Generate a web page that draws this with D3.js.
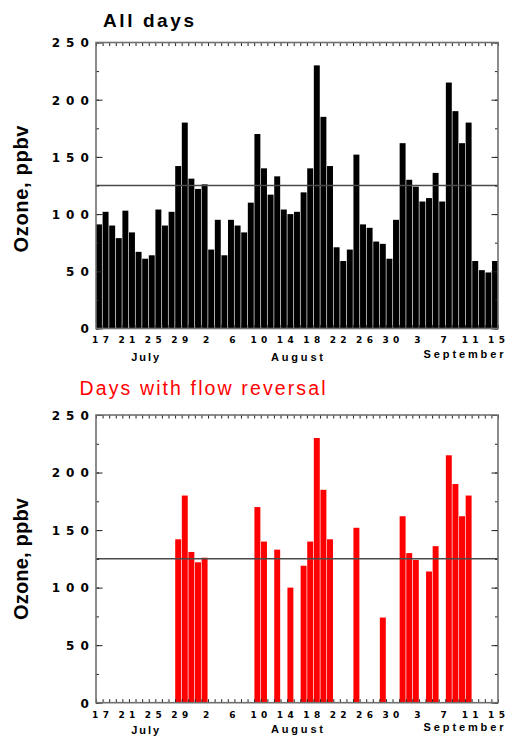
<!DOCTYPE html>
<html><head><meta charset="utf-8">
<script src="https://cdn.jsdelivr.net/npm/d3@7"></script>
<style>body{margin:0;background:#fff}svg{display:block}</style>
</head><body>
<svg id="c" width="506" height="736"></svg>
<script>
// ---- data ----
const fmt = d3.timeFormat("%m-%d");
const days = d3.timeDay.range(new Date(2000, 6, 17), new Date(2000, 8, 16)).map(fmt); // Jul 17 .. Sep 15
const ozoneAll = [91,102,90,79,103,84,67,61,64,104,
                  90,102,142,180,131,122,126,69,95,64,
                  95,90,84,110,170,140,117,133,104,100,
                  102,119,140,230,185,142,71,59,69,152,
                  91,88,76,74,61,95,162,130,124,111,
                  114,136,111,215,190,162,180,59,51,49,59];
const reversalDays = ["07-29","07-30","07-31","08-01","08-02","08-10","08-11","08-13","08-15","08-17",
                      "08-18","08-19","08-20","08-21","08-25","08-29","09-01","09-02","09-03","09-05",
                      "09-06","09-08","09-09","09-10","09-11"];
const reversalValues = [142,180,131,122,126,170,140,133,100,119,
                        140,230,185,142,152,74,162,130,124,114,
                        136,215,190,162,180];
const xTickDays = ["07-17","07-21","07-25","07-29","08-02","08-06","08-10","08-14","08-18","08-22","08-26","08-30","09-03","09-07","09-11","09-15"];
const yTicks = [0,50,100,150,200,250];
const yMinorTicks = [0,25,50,75,100,125,150,175,200,225,250];
const months = ["July","August","September"];
const monthCenterDays = ["07-24","08-16","09-10"];
const threshold = 125;
const titles = ["All days","Days with flow reversal"];
const yTitle = "Ozone, ppbv";

// ---- layout ----
const svg = d3.select("#c");
const L = 96, R = 498;
const panels = [
  {top: 42.5, bottom: 328.5, data: days.map((d,i)=>({day:d, v:ozoneAll[i]})), color:"#000",
   title: titles[0], titleX: 103, titleY: 27, titleLen: 91, titleSize: 19, titleWeight: "bold", titleColor:"#000",
   yTitleY: 189, yTitleLen: 127, monthY: [361, 361, 358], tickY: 343},
  {top: 415, bottom: 702.7, data: reversalDays.map((d,i)=>({day:d, v:reversalValues[i]})), color:"#ff0000",
   title: titles[1], titleX: 79.5, titleY: 395, titleLen: 246, titleSize: 19.5, titleWeight: "normal", titleColor:"#ff0000",
   yTitleY: 559, yTitleLen: 122, monthY: [734, 733, 731], tickY: 718.5}
];

const x = d3.scaleBand().domain(days).range([L, R]).paddingInner(0.1).paddingOuter(0);
const xEdge = d3.scaleLinear().domain([0, days.length]).range([L, R]);
const numFont = "'DejaVu Sans', sans-serif";
const txtFont = "'Liberation Sans', Arial, sans-serif";

// spaced text without trailing space
function spaced(sel, ls) {
  sel.each(function() {
    const t = d3.select(this), s = t.text();
    t.text(null);
    [...s].forEach((ch, i, arr) => {
      t.append("tspan").style("letter-spacing", i < arr.length - 1 ? ls + "px" : "0px").text(ch);
    });
  });
}

panels.forEach(p => {
  const y = d3.scaleLinear().domain([0, 250]).range([p.bottom, p.top]);
  const g = svg.append("g");

  // bars
  g.append("g").selectAll("rect").data(p.data).join("rect")
    .attr("x", d => x(d.day)).attr("width", x.bandwidth())
    .attr("y", d => y(d.v)).attr("height", d => y(0) - y(d.v))
    .attr("fill", p.color);

  // threshold line
  g.append("line").attr("x1", L).attr("x2", R)
    .attr("y1", y(threshold)).attr("y2", y(threshold))
    .attr("stroke", "#4a4a4a").attr("stroke-width", 1.5);

  const styleAxis = sel => { sel.select(".domain").remove(); sel.selectAll(".tick line").attr("stroke", "#222"); };

  // day ticks, bottom & top (inward)
  g.append("g").attr("transform", `translate(0,${p.bottom})`)
    .call(d3.axisBottom(xEdge).tickValues(d3.range(0, days.length + 1)).tickSize(-3.5).tickFormat(""))
    .call(styleAxis);
  g.append("g").attr("transform", `translate(0,${p.top})`)
    .call(d3.axisTop(xEdge).tickValues(d3.range(0, days.length + 1)).tickSize(-3.5).tickFormat(""))
    .call(styleAxis);

  // y ticks left/right
  g.append("g").attr("transform", `translate(${L},0)`)
    .call(d3.axisLeft(y).tickValues(yMinorTicks).tickSize(-3).tickFormat("")).call(styleAxis);
  g.append("g").attr("transform", `translate(${R},0)`)
    .call(d3.axisRight(y).tickValues(yMinorTicks).tickSize(-3).tickFormat("")).call(styleAxis);
  g.append("g").attr("transform", `translate(${R},0)`)
    .call(d3.axisRight(y).tickValues(yTicks).tickSize(-6.5).tickFormat("")).call(styleAxis);
  const ya = g.append("g").attr("transform", `translate(${L},0)`)
    .call(d3.axisLeft(y).tickValues(yTicks).tickSize(-6.5).tickFormat(d3.format("d"))).call(styleAxis);
  ya.selectAll(".tick text")
    .attr("x", -7.2).attr("dy", "0.36em")
    .attr("text-anchor", "end")
    .style("font-family", numFont).style("font-weight", "bold").style("font-size", "12px")
    .attr("fill", "#000").call(spaced, 6);

  // x tick labels
  const xa = g.append("g").attr("transform", `translate(0,${p.bottom})`)
    .call(d3.axisBottom(x).tickValues(xTickDays).tickSize(0).tickFormat(d => String(+d.slice(3))));
  xa.select(".domain").remove();
  xa.selectAll(".tick text")
    .attr("y", p.tickY - p.bottom).attr("dy", 0).attr("dx", 1.5)
    .style("font-family", numFont).style("font-weight", "bold").style("font-size", "9px")
    .attr("fill", "#000").call(spaced, 4.4);

  // month labels
  const monthLens = [28, 52, 80];
  g.append("g").selectAll("text").data(months).join("text")
    .attr("x", (d, i) => x(monthCenterDays[i]) + x.bandwidth() / 2 + (i === 2 ? 1.5 : 0))
    .attr("y", (d, i) => p.monthY[i])
    .attr("text-anchor", "middle")
    .attr("textLength", (d, i) => monthLens[i]).attr("lengthAdjust", "spacing")
    .style("font-family", txtFont).style("font-weight", "bold").style("font-size", "11px")
    .text(d => d);

  // frame
  g.append("rect").attr("x", L).attr("y", p.top).attr("width", R - L).attr("height", p.bottom - p.top)
    .attr("fill", "none").attr("stroke", "#707070").attr("stroke-width", 1.6);

  // title
  g.append("text").attr("x", p.titleX).attr("y", p.titleY)
    .attr("textLength", p.titleLen).attr("lengthAdjust", "spacing")
    .style("font-family", txtFont).style("font-weight", p.titleWeight).style("font-size", p.titleSize + "px")
    .attr("fill", p.titleColor).text(p.title);

  // y title
  g.append("text").attr("transform", `translate(28,${p.yTitleY}) rotate(-90)`)
    .attr("text-anchor", "middle")
    .attr("textLength", p.yTitleLen).attr("lengthAdjust", "spacing")
    .style("font-family", txtFont).style("font-weight", "bold").style("font-size", "20px")
    .attr("fill", "#000").text(yTitle);
});
</script>
</body></html>
